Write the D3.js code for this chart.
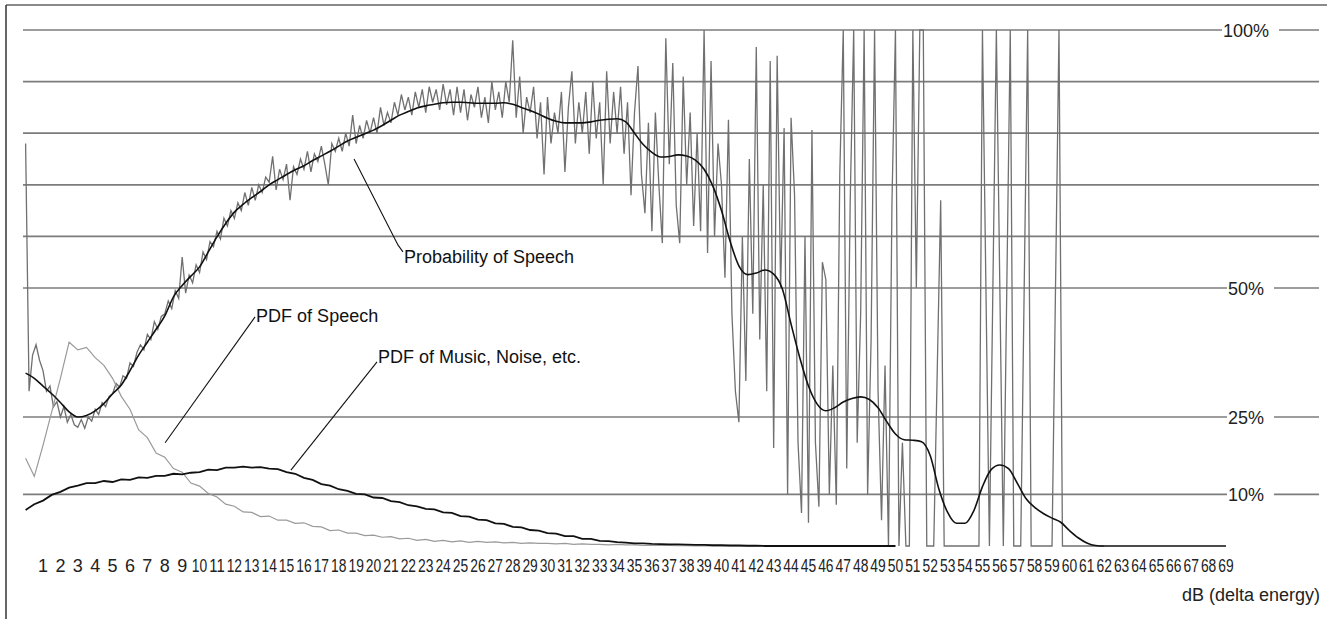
<!DOCTYPE html>
<html><head><meta charset="utf-8">
<script src="https://cdn.jsdelivr.net/npm/d3@7"></script>
<style>
body{margin:0;background:#fff}
svg{display:block}
text{font-family:"Liberation Sans",Arial,sans-serif}
</style>
</head><body>
<svg id="c" width="1327" height="619"></svg>
<script>
// ---------- data ----------
const dbLabels = [1,2,3,4,5,6,7,8,9,10,11,12,13,14,15,16,17,18,19,20,21,22,23,24,25,26,27,28,29,30,31,32,33,34,35,36,37,38,39,40,41,42,43,44,45,46,47,48,49,50,51,52,53,54,55,56,57,58,59,60,61,62,63,64,65,66,67,68,69];
const gridValues = [100,90,80,70,60,50,25,10];
const pctLabelValues = [100,50,25,10];
const pctLabelTexts = ["100%","50%","25%","10%"];
const xTitle = "dB (delta energy)";

// smoothed probability of speech (%), one value every 0.5 dB starting at 0 dB
const smoothStep = 0.5;
const probSmooth = [
 33.5,32.5,31.0,29.5,27.8,26.0,25.0,25.3,26.2,27.6,
 29.5,31.2,34.0,37.0,39.5,42.0,44.6,48.3,50.5,52.3,
 54.1,57.0,59.9,62.5,64.7,66.2,67.5,68.7,70.0,71.0,
 72.0,72.9,73.7,74.7,75.6,76.5,77.5,78.5,79.2,79.9,
 80.6,81.5,82.5,83.5,84.2,84.9,85.3,85.6,85.9,86.0,
 86.0,85.9,85.8,85.8,85.8,85.9,85.6,85.0,84.4,83.7,
 82.9,82.3,82.0,82.0,82.0,82.2,82.5,82.7,82.8,82.2,
 80.0,77.8,76.3,75.4,75.5,75.8,75.6,74.8,73.0,69.8,
 65.0,59.0,54.3,52.6,52.9,53.5,52.7,49.8,43.0,36.5,
 31.0,27.5,26.2,26.8,27.9,28.6,28.9,28.4,26.8,24.1,
 21.7,20.6,20.5,20.2,17.5,11.0,6.5,4.4,4.4,6.8,
 11.5,14.8,15.7,15.0,12.2,9.2,7.5,6.3,5.4,4.6,
 3.0,1.6,0.6,0.1,0,0,0,0,0,0,
 0,0,0,0,0,0,0,0,0
];

// raw (unsmoothed) probability of speech (%), one value every 0.2 dB starting at 0 dB
const rawStep = 0.2;
const probRaw = [
 78,30,37,39,36,  34,30,31,27,28,  25,27,24,25.5,23.5,  23,24.5,22.8,25,24.2,
 26.5,25.5,27.8,27,29,  29.5,31.5,30.8,33,32.5,  35.5,34.8,37.5,39,38,  41,40,43.5,42,44.5,
 45,47.5,46,49.5,48,  56,49,52.5,51,54.5,  53,57,55.5,59,58,  61,59.5,63.5,62,65,
 63.5,66.5,65,68.5,66,  69.5,67,70,68.5,71.5,  70.5,75.5,69,73,71,  74,67,73.5,72,75,
 73,76.5,72.5,76,74.5,  77.5,74,70,78,76.5,  79,76.5,80,77.5,83.5,  78,81.5,79,82.5,80,
 83,80,85,81.5,84,  82,86,83.5,87.5,84.5,  87,83.5,88,85,88.5,  84,89,86,88.5,84.5,
 89.5,85.5,88.5,83.5,89,  84,88.5,82.5,87.5,85,  89,83,87,82,90,  84.5,88,83,90,86,
 98,83,91,80,87,  84,89,79,86,72,  87,78,84,80,88,  72.5,85,92,78,86,
 80,88,76,90,79,  86,70,92,78,88,  80,89,76,86,68,  84,93,72,64.5,82,
 61,84,70,58.7,98.4,  74,93.6,66,58.7,91,  70,84,62,80,61,  100,56.8,94,60,78,
 70,52,82.6,45,30,  24,60,32,75,45,  96.7,40,70,30,94,  19,95,50,81,10,
 83,68,20,6.4,60,  4.5,80.6,20,7.6,55,  51.6,10,35,8,72,  100,15,67,100,20,
 45,100,10,40,100,  30,5,35,0,66.7,  100,0,20,0,0,  100,50,100,100,0,
 0,0,33.7,67,0,  0,0,0,0,0,  0,0,0,0,0,  100,50,0,50,100,
 50,0,50,100,0,  0,0,50,100,0,  0,0,0,0,0,  0,50,100,0,0,
 0,0,0,0,0,  0,0,0,0,0,  0
];

// probability density of speech (same vertical units), every 0.5 dB from 0 dB
const pdfStep = 0.5;
const pdfSpeech = [
 17,13.5,19.5,26,32.5,39.5,38,38.5,36.5,35,
 32.5,29,26.5,22.5,21,18,17.2,15,14.3,12.2,
 11.6,10.2,9.5,8.1,7.7,6.6,6.5,5.7,5.8,5.0,
 5.0,4.4,4.5,3.8,3.7,3.0,3.1,2.5,2.5,2.0,
 2.1,1.7,1.8,1.4,1.5,1.1,1.3,0.9,1.1,0.8,
 1.0,0.7,0.9,0.7,0.8,0.6,0.7,0.5,0.6,0.5,
 0.5,0.4,0.5,0.3,0.4,0.3,0.3,0.2,0.3,0.2,
 0.2,0.1,0.1,0.1,0.1,0.05,0.05,0,0,0,
 0,0,0,0,0,0,0,0,0,0,
 0,0,0,0,0,0,0,0,0,0,
 0
];

// probability density of music, noise, etc., every 0.5 dB from 0 dB
const pdfMusic = [
 7.0,8.1,8.8,9.9,10.5,11.3,11.7,12.2,12.2,12.6,
 12.4,12.9,12.8,13.3,13.2,13.6,13.6,14.0,13.9,14.2,
 14.3,14.8,14.7,15.2,15.2,15.4,15.2,15.3,15.0,14.9,
 14.3,14.0,13.2,12.8,12.0,11.7,11.0,10.7,10.1,10.0,
 9.4,9.3,8.7,8.5,7.9,7.7,7.2,7.1,6.5,6.4,
 5.8,5.7,5.1,5.0,4.4,4.3,3.7,3.6,3.1,3.0,
 2.5,2.4,1.9,1.9,1.4,1.4,1.0,0.95,0.75,0.65,
 0.5,0.5,0.4,0.35,0.3,0.3,0.25,0.2,0.2,0.15,
 0.15,0.1,0.1,0.05,0.05,0,0,0,0,0,
 0,0,0,0,0,0,0,0,0,0,
 0
];

// annotations: leader line points and text anchor, in (dB, value) space
const annLabels = ["Probability of Speech","PDF of Speech","PDF of Music, Noise, etc."];
const annLeaders = [
 [[18.88,75.0],[21.41,58.3],[21.69,57.0]],
 [[8.02,20.0],[13.19,44.4]],
 [[15.25,14.7],[20.2,35.7]]
];
const annText = [[21.75,54.8],[13.25,43.4],[20.25,35.5]];

// ---------- drawing ----------
const svg = d3.select("#c");
const x = d3.scaleLinear().domain([1,69]).range([43,1226]);
const y = d3.scaleLinear().domain([0,100]).range([546,30]);
const toPts = (arr, step) => arr.map((v,i)=>[i*step, v]);

// frame
svg.append("line").attr("x1",6).attr("x2",1327).attr("y1",5).attr("y2",5)
  .attr("stroke","#8a8a8a").attr("stroke-width",2);
svg.append("line").attr("x1",6).attr("x2",6).attr("y1",5).attr("y2",619)
  .attr("stroke","#333").attr("stroke-width",1.5);

// gridlines
svg.append("g").selectAll("line").data(gridValues).join("line")
  .attr("x1",23).attr("x2",1319)
  .attr("y1",d=>y(d)).attr("y2",d=>y(d))
  .attr("stroke","#7c7c7c").attr("stroke-width",1.7);

// percent labels on the gridlines
const pl = svg.append("g").selectAll("g").data(pctLabelValues).join("g");
pl.each(function(v,i){
  const g = d3.select(this);
  const t = g.append("text").attr("x",1246).attr("y",y(v)+7)
    .attr("text-anchor","middle").attr("font-size",18).attr("fill","#222")
    .text(pctLabelTexts[i]);
  const b = t.node().getBBox();
  g.insert("rect","text").attr("x",b.x-1).attr("y",y(v)-4).attr("width",b.width+11).attr("height",8).attr("fill","#fff");
});

const line = d3.line().x(p=>x(p[0])).y(p=>y(p[1]));
const lineSmooth = d3.line().x(p=>x(p[0])).y(p=>y(p[1])).curve(d3.curveMonotoneX);

// raw probability
svg.append("path").attr("d",line(toPts(probRaw,rawStep)))
  .attr("fill","none").attr("stroke","#707070").attr("stroke-width",1.3);
// PDF of speech
svg.append("path").attr("d",line(toPts(pdfSpeech,pdfStep)))
  .attr("fill","none").attr("stroke","#9a9a9a").attr("stroke-width",1.2);
// PDF of music
svg.append("path").attr("d",line(toPts(pdfMusic,pdfStep)))
  .attr("fill","none").attr("stroke","#111").attr("stroke-width",1.8);
// smooth probability
svg.append("path").attr("d",lineSmooth(toPts(probSmooth,smoothStep)))
  .attr("fill","none").attr("stroke","#111").attr("stroke-width",1.6);

// x tick labels (two-digit labels squeezed into their slot, as in the original)
svg.append("g").selectAll("text").data(dbLabels).join("text")
  .attr("x",d=>x(d)).attr("y",572).attr("text-anchor","middle")
  .attr("font-size",18).attr("fill","#222")
  .each(function(d){
    if (String(d).length > 1) d3.select(this).attr("textLength",15.4).attr("lengthAdjust","spacingAndGlyphs");
  })
  .text(d=>d);

// x title
svg.append("text").attr("x",1320).attr("y",601).attr("text-anchor","end")
  .attr("font-size",18).attr("fill","#222").text(xTitle);

// annotations
annLabels.forEach((lab,i)=>{
  svg.append("path").attr("d",d3.line().x(p=>x(p[0])).y(p=>y(p[1]))(annLeaders[i]))
    .attr("fill","none").attr("stroke","#111").attr("stroke-width",1.1);
  svg.append("text").attr("x",x(annText[i][0])).attr("y",y(annText[i][1]))
    .attr("font-size",18).attr("fill","#111").text(lab);
});
</script>
</body></html>
